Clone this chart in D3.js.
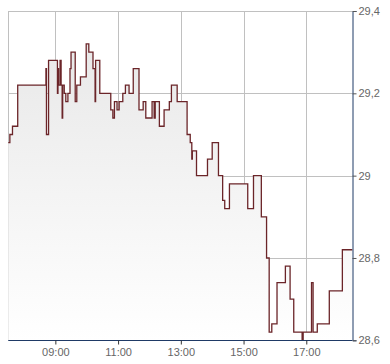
<!DOCTYPE html>
<html>
<head>
<meta charset="utf-8">
<script src="https://cdn.jsdelivr.net/npm/d3@7"></script>
<style>
  body { margin: 0; background: #fff; }
  svg text { font-family: "Liberation Sans", Arial, sans-serif; font-size: 11px; fill: #666; }
</style>
</head>
<body>
<div id="chart"></div>
<script>
const times = ["07:30","07:33","07:38","07:48","08:42","08:43","08:47","09:04","09:05","09:06",
  "09:09","09:11","09:13","09:14","09:17","09:20","09:24","09:28","09:30","09:38",
  "09:41","09:48","09:59","10:04","10:12","10:16","10:17","10:25","10:46","10:50",
  "10:53","10:58","11:02","11:09","11:14","11:21","11:29","11:40","11:48","11:53",
  "12:05","12:09","12:11","12:19","12:28","12:38","12:42","12:53","13:12","13:18",
  "13:21","13:22","13:30","13:51","14:00","14:12","14:20","14:24","14:33","15:08",
  "15:19","15:34","15:44","15:49","15:54","16:04","16:20","16:29","16:36","16:52",
  "16:54","17:10","17:13","17:21","17:44","18:09","18:28"];
const prices = [29.08,29.10,29.12,29.22,29.26,29.10,29.28,29.20,29.26,29.22,
  29.28,29.22,29.14,29.22,29.20,29.18,29.20,29.26,29.30,29.18,
  29.22,29.24,29.32,29.30,29.26,29.18,29.28,29.20,29.16,29.14,
  29.18,29.16,29.18,29.20,29.22,29.20,29.26,29.16,29.18,29.14,
  29.18,29.14,29.18,29.12,29.16,29.18,29.22,29.18,29.10,29.08,
  29.04,29.06,29.00,29.04,29.08,29.00,28.94,28.92,28.98,28.92,
  29.00,28.90,28.80,28.62,28.64,28.74,28.78,28.70,28.62,28.60,
  28.62,28.74,28.62,28.64,28.72,28.82,28.82];
const yTicks = [28.6, 28.8, 29.0, 29.2, 29.4];
const xTicks = ["09:00", "11:00", "13:00", "15:00", "17:00"];
const xDomain = ["07:30", "18:28"];

const width = 390, height = 364;
const mLeft = 8.3, mRight = 352.3, mTop = 11, mBottom = 340.3;

const parse = d3.timeParse("%H:%M");
const data = times.map((t, i) => ({ t: parse(t), v: prices[i] }));

const x = d3.scaleTime().domain(xDomain.map(parse)).range([mLeft, mRight]);
const y = d3.scaleLinear().domain([28.6, 29.4]).range([mBottom, mTop]);

const locale = d3.formatLocale({ decimal: ",", thousands: ".", grouping: [3], currency: ["", "€"] });
const fmt = v => locale.format(".1f")(v).replace(",0", "");

const svg = d3.select("#chart").append("svg")
  .attr("width", width)
  .attr("height", height);

const grad = svg.append("defs").append("linearGradient")
  .attr("id", "fillGrad")
  .attr("gradientUnits", "userSpaceOnUse")
  .attr("x1", 0).attr("y1", mTop).attr("x2", 0).attr("y2", mBottom);
grad.append("stop").attr("offset", "0%").attr("stop-color", "#e6e6e6");
grad.append("stop").attr("offset", "100%").attr("stop-color", "#ffffff");

// grid
svg.append("g").selectAll("line").data(yTicks).enter().append("line")
  .attr("x1", mLeft).attr("x2", mRight)
  .attr("y1", d => Math.round(y(d)) + 0.5).attr("y2", d => Math.round(y(d)) + 0.5)
  .attr("stroke", "#c0c0c0");
svg.append("g").selectAll("line").data(xTicks).enter().append("line")
  .attr("x1", d => Math.round(x(parse(d))) + 0.5).attr("x2", d => Math.round(x(parse(d))) + 0.5)
  .attr("y1", mTop).attr("y2", mBottom)
  .attr("stroke", "#c0c0c0");
svg.append("line")
  .attr("x1", Math.round(mLeft) + 0.5).attr("x2", Math.round(mLeft) + 0.5)
  .attr("y1", mTop).attr("y2", mBottom)
  .attr("stroke", "#c0c0c0");

// area + line
const area = d3.area()
  .x(d => x(d.t)).y0(mBottom).y1(d => y(d.v))
  .curve(d3.curveStepAfter);
const line = d3.line()
  .x(d => x(d.t)).y(d => y(d.v))
  .curve(d3.curveStepAfter);

svg.append("path").datum(data)
  .attr("d", area)
  .attr("fill", "url(#fillGrad)");
svg.append("path").datum(data)
  .attr("d", line)
  .attr("fill", "none")
  .attr("stroke", "#6b2529")
  .attr("stroke-width", 1.3);

// axes
const yAxis = svg.append("g")
  .attr("transform", "translate(" + (Math.round(mRight) + 0.5) + ",0)")
  .call(d3.axisRight(y).tickValues(yTicks).tickSize(4).tickPadding(2).tickFormat(fmt));
yAxis.select(".domain").attr("stroke", "#1f3a66");
yAxis.selectAll(".tick line").attr("stroke", "#555");
yAxis.selectAll("text").attr("fill", "#666").style("font-size", "11px");

const xAxis = svg.append("g")
  .attr("transform", "translate(0," + (Math.round(mBottom) + 0.5) + ")")
  .call(d3.axisBottom(x).tickValues(xTicks.map(parse)).tickSize(4).tickPadding(4).tickFormat(d3.timeFormat("%H:%M")));
xAxis.select(".domain").attr("stroke", "#1f3a66").attr("d", "M" + mLeft + ",0H" + mRight);
xAxis.selectAll(".tick line").attr("stroke", "#333");
xAxis.selectAll("text").attr("fill", "#666").style("font-size", "11px");
</script>
</body>
</html>
